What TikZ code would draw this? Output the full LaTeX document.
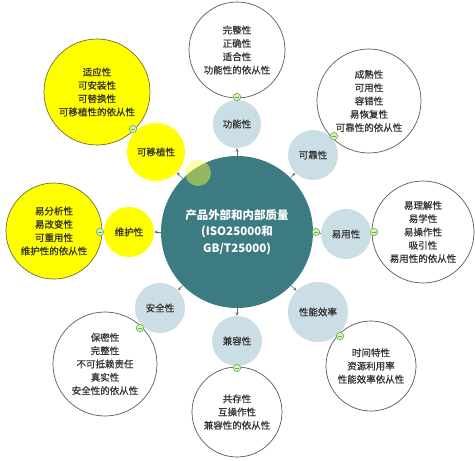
\documentclass[tikz,border=0pt]{standalone}
\usepackage{fontspec}
\setmainfont{Noto Sans CJK SC}
\newfontfamily\medcjk[FakeBold=0.7]{Noto Sans CJK SC}
\usetikzlibrary{arrows.meta}
\definecolor{coreteal}{HTML}{3B7B81}
\definecolor{subblue}{HTML}{CCDEE5}
\definecolor{ylw}{HTML}{FFFF00}
\definecolor{ylwline}{HTML}{6E6E34}
\definecolor{circline}{HTML}{5A5A5A}
\definecolor{txtgray}{HTML}{333333}
\definecolor{arrgray}{HTML}{6A6A6A}
\definecolor{dotline}{HTML}{72B043}
\definecolor{dotfill}{HTML}{D5EFC4}
\begin{document}
\begin{tikzpicture}[x=1pt,y=-1pt,
  core/.style={circle, fill=coreteal, minimum size=152pt, inner sep=0pt, text=white,
    align=center, font=\bfseries\fontsize{11.5}{16.5}\selectfont},
  sub/.style={circle, fill=subblue, minimum size=#1, inner sep=0pt, text=txtgray,
    font=\medcjk\fontsize{9.5}{12}\selectfont},
  suby/.style={sub=#1, fill=ylw},
  det/.style={circle, draw=circline, line width=0.7pt, fill=white, minimum size=#1,
    inner sep=0pt, align=center, text=txtgray, font=\medcjk\fontsize{9.5}{13.3}\selectfont},
  dety/.style={det=#1, fill=ylw, draw=ylwline},
  arr/.style={draw=arrgray, line width=0.6pt, -{Stealth[length=3.5pt,width=3pt]}},
  link/.style={draw=arrgray, line width=0.6pt},
  gdot/.style={circle, draw=dotline, fill=dotfill, line width=0.6pt, minimum size=7.5pt,
    inner sep=0pt, path picture={\draw[dotline, line width=0.7pt]
      ([xshift=-2pt]path picture bounding box.center) -- ([xshift=2pt]path picture bounding box.center);}},
  glow/.style={circle, fill=ylw!75!white, fill opacity=0.45, minimum size=26pt, inner sep=0pt}
]
\useasboundingbox (0,0) rectangle (475,461);
\fill[white] (0,0) rectangle (475,461);

% detail circles
\node[det=96pt]  (fd) at (237,50)  {完整性\\正确性\\适合性\\功能性的依从性};
\node[det=104pt] (rd) at (369,101) {成熟性\\可用性\\容错性\\易恢复性\\可靠性的依从性};
\node[det=102pt] (ud) at (423,232) {易理解性\\易学性\\易操作性\\吸引性\\易用性的依从性};
\node[det=90pt]  (ed) at (371,366) {时间特性\\资源利用率\\性能效率依从性};
\node[det=90pt]  (cd) at (237,412) {共存性\\互操作性\\兼容性的依从性};
\node[det=104pt] (sd) at (105,364) {保密性\\完整性\\不可抵赖责任\\真实性\\安全性的依从性};
\node[dety=96pt] (md) at (54,231)  {易分析性\\易改变性\\可重用性\\维护性的依从性};
\node[dety=106pt] (pd) at (97,92)  {适应性\\可安装性\\可替换性\\可移植性的依从性};

% characteristic circles
\node[sub=48pt]  (f) at (237,124) {功能性};
\node[sub=50pt]  (r) at (313,155) {可靠性};
\node[sub=50pt]  (u) at (346,234) {易用性};
\node[sub=60pt]  (e) at (318,312) {性能效率};
\node[sub=50pt]  (c) at (237,341) {兼容性};
\node[sub=50pt]  (s) at (160,308) {安全性};
\node[suby=50pt] (m) at (129,232) {维护性};
\node[suby=58pt] (p) at (156,152) {可移植性};

% core
\node[core] (core) at (237,232) {产品外部和内部质量\\(ISO25000和\\GB/T25000)};

% connectors
\draw[arr] (core) -- (f);
\draw[arr] (core) -- (r);
\draw[link] (core) -- (u);
\draw[arr] (core) -- (e);
\draw[arr] (core) -- (c);
\draw[arr] (core) -- (s);
\draw[arr] (core) -- (m);
\draw[arr] (core) -- (p);

% collapse dots
\node[gdot] (g1) at (237,97)  {};
\node[gdot] (g2) at (334,136) {};
\node[gdot] (g3) at (316,232) {};
\node[gdot] (g4) at (374,232) {};
\node[gdot] (g5) at (340,336) {};
\node[gdot] (g6) at (237,368) {};
\node[gdot] (g7) at (140,328) {};
\node[gdot] (g8) at (100,232) {};
\node[gdot] (g9) at (133,129) {};

% highlight
\node[glow] (hl) at (198,173) {};
\end{tikzpicture}
\end{document}
